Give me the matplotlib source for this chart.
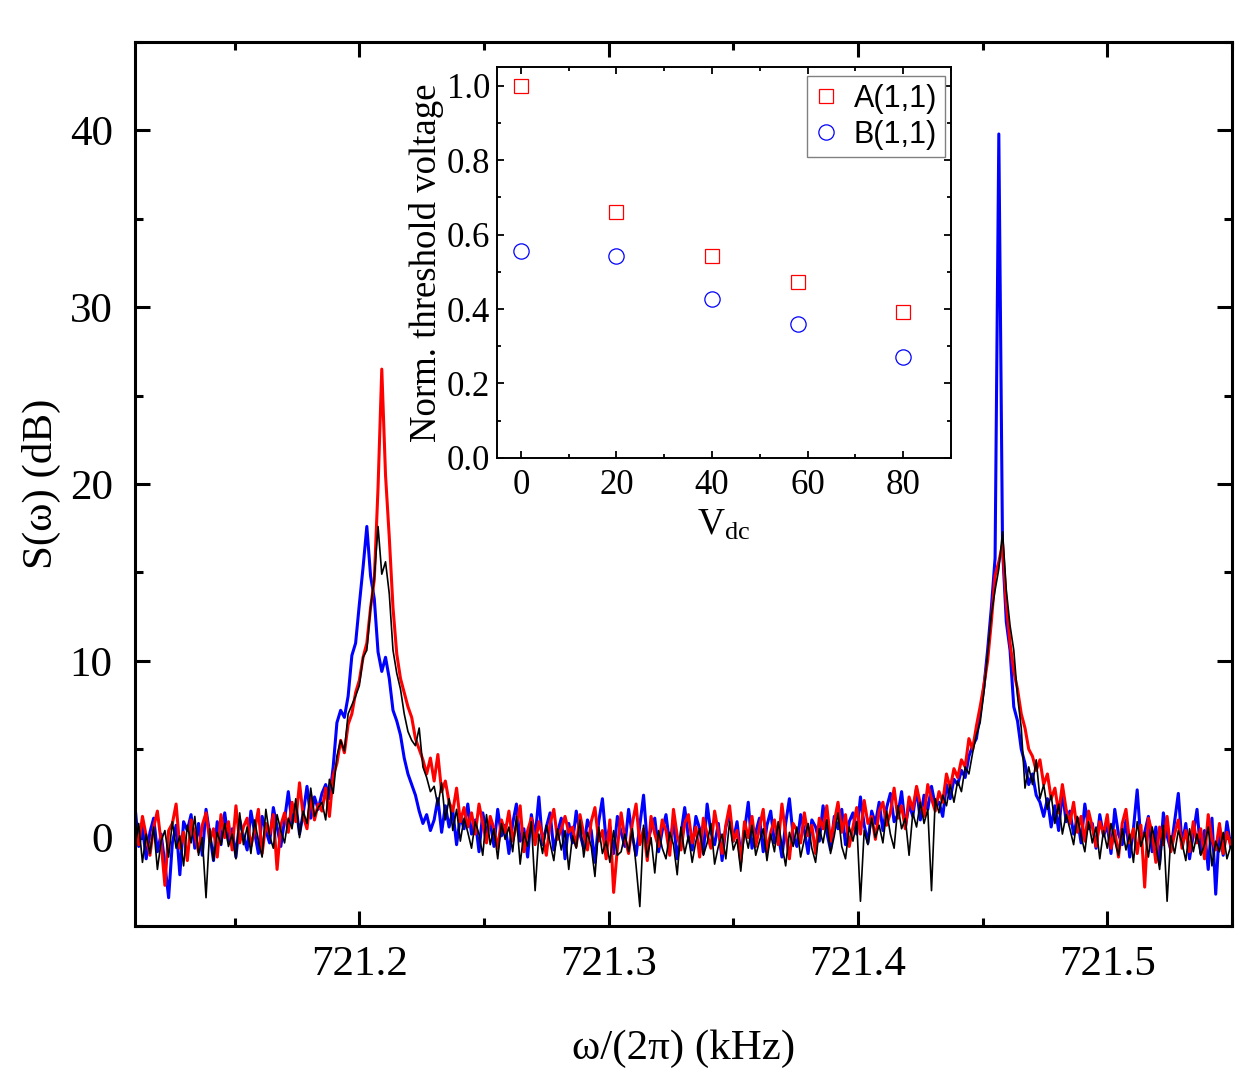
import numpy as np
import matplotlib
matplotlib.use("Agg")
import matplotlib.pyplot as plt
from matplotlib import font_manager
from matplotlib.ticker import MultipleLocator, FormatStrFormatter

plt.rcParams['font.family'] = ['Liberation Serif', 'DejaVu Serif']
plt.rcParams['mathtext.fontset'] = 'custom'
plt.rcParams['mathtext.rm'] = 'Liberation Serif'
plt.rcParams['mathtext.it'] = 'Liberation Serif:italic'

# frequency grid of the spectrum (kHz), 0.0015 kHz step
f_start = 721.11
f_step = 0.0015
n_pts = 294

# spectra in dB
s_blue = [
    1.8, -0.5, 0.6, -1.2, 0.3, 1.1, -0.8, 0.2, -1.5, -3.4,
    -0.3, 0.7, -2.1, 0.9, 0.4, 1.3, -0.6, 0.8, -1.0, 1.6,
    0.2, -1.3, 0.9, -0.4, 1.4, -0.2, 0.5, -1.1, 1.0, 0.1,
    -0.7, 1.5, 0.3, -0.9, 1.2, 0.4, -0.3, 1.7, 0.6, -0.5,
    1.0, 2.6, 0.8, 1.9, 0.2, 1.4, 2.9, 1.1, 2.3, 1.6,
    2.5, 3.0, 2.2, 4.0, 6.5, 7.2, 6.8, 8.0, 10.3, 11.0,
    13.2, 15.3, 17.6, 14.8, 13.5, 10.5, 9.4, 10.2, 9.0, 7.2,
    6.6, 5.8, 4.5, 3.6, 3.0, 2.4, 1.5, 0.8, 1.3, 0.4,
    1.0, 2.2, 0.3, 1.8, 0.6, 1.5, -0.4, 1.2, 0.5, 1.9,
    0.2, 1.0, -0.8, 1.4, 0.3, 0.9, -0.5, 1.6, 0.1, 0.7,
    -0.9, 0.8, 1.9, -0.2, 0.5, -1.1, 1.3, 0.0, 2.3, -0.4,
    0.6, 1.4, -0.7, 0.3, 1.1, -1.2, 0.8, -0.3, 1.5, 0.2,
    -0.6, 1.0, 0.4, -1.4, 0.9, 2.2, -0.2, 0.6, -0.9, 1.2,
    0.3, -0.5, 1.6, 0.1, -1.0, 0.7, 2.4, -0.3, 0.5, 1.1,
    -0.8, 0.4, 1.3, -0.4, 0.9, -1.2, 0.2, 1.7, 0.0, -0.7,
    1.2, 0.5, -0.9, 1.9, 0.3, -0.4, 0.8, -1.3, 0.6, 1.4,
    -0.2, 0.9, -1.0, 0.4, 2.0, -0.6, 0.3, 1.1, -0.8, 0.7,
    1.5, -0.3, 0.2, -1.1, 0.8, 2.2, 0.1, -0.5, 1.3, 0.4,
    -0.9, 1.0, 0.6, -0.2, 1.8, 0.3, -0.7, 1.2, 0.5, 1.6,
    -0.4, 0.9, 1.4, 0.2, 2.3, 0.7, -0.3, 1.5, 0.8, 2.0,
    0.4, 1.7, 2.5, 0.9, 1.3, 2.6, 0.6, 1.9, 1.2, 2.8,
    1.0, 2.4, 1.6, 2.9, 1.8, 2.0, 1.2, 3.0, 2.2, 3.3,
    3.0, 3.8, 3.4, 4.6, 5.2, 5.6, 7.0, 8.5, 10.6, 13.0,
    15.8, 39.8, 16.3, 12.2, 10.6, 7.4, 6.6, 5.0, 4.2, 3.0,
    3.6, 2.4, 2.0, 1.2, 2.2, 0.6, 1.8, 0.4, 2.6, 0.9,
    1.5, 0.2, 1.1, -0.3, 1.9, 0.5, 0.8, -0.6, 1.3, 0.1,
    0.7, -0.9, 1.6, 0.2, -0.4, 1.0, -1.1, 0.5, 2.7, -0.2,
    0.3, 1.2, -0.8, 0.6, -1.5, 1.4, 0.1, -0.7, 0.9, 2.5,
    -0.4, 0.8, -1.2, 0.2, 1.6, -0.9, 0.4, -1.8, 1.1, -3.2,
    0.6, -1.0, 0.9, -0.5,
]

s_red = [
    0.9, -0.4, 1.2, 0.1, -1.0, 0.6, 1.5, -0.3, -2.7, 0.4,
    0.8, 1.9, -0.6, 0.3, -1.3, 1.0, 0.2, -0.8, 0.7, 1.4,
    -0.2, 0.5, -1.1, 1.3, 0.0, 0.9, -0.7, 1.8, -0.3, 0.6,
    1.1, -0.5, 0.4, 1.6, -0.9, 0.8, 0.2, 1.3, -1.8, 0.7,
    1.4, 0.3, 2.0, 0.9, 3.1, 1.2, 0.5, 2.4, 1.0, 1.9,
    1.5, 2.8, 1.2, 3.5, 4.2, 5.5, 4.8, 6.4, 7.0, 8.2,
    8.9, 10.2, 11.0, 13.0, 14.6, 19.8, 26.5, 20.5, 17.0, 13.0,
    10.4, 9.0, 8.2, 7.4, 6.8, 5.6, 5.0, 4.4, 3.6, 4.5,
    3.2, 4.7, 2.6, 3.2, 2.0, 1.5, 2.8, 0.9, 1.7, 0.6,
    1.4, 0.2, 1.9, 0.8, -0.3, 1.2, 0.5, -0.6, 1.0, 0.3,
    1.5, -0.2, 0.7, 1.8, -0.8, 0.4, 1.1, -0.4, 0.9, 0.1,
    -1.0, 0.8, 1.6, -0.1, 0.5, 1.2, 0.3, 0.6, -0.5, 1.3,
    0.2, -0.7, 0.9, 1.7, -0.2, 0.4, -1.2, 1.0, -3.1, -0.6,
    1.4, 0.0, -0.9, 0.8, 1.9, -0.4, 0.5, -1.3, 1.2, 0.2,
    -0.5, 1.0, 0.4, -1.0, 1.6, 0.1, -0.7, 0.8, 1.3, -0.3,
    0.6, -1.1, 1.1, 0.2, -0.6, 1.5, 0.3, -0.9, 0.7, 1.8,
    -0.2, 0.4, -1.4, 0.9, 0.0, 1.2, -0.5, 0.6, 1.6, -0.8,
    0.3, 1.0, -0.4, 1.9, 0.2, -1.2, 0.8, 0.4, -0.3, 1.4,
    0.1, 0.7, -0.9, 1.1, 0.5, 1.8, -0.2, 0.9, 2.0, 0.3,
    1.3, -0.5, 0.6, 1.7, 0.2, 2.1, 0.8, 1.2, -0.1, 1.5,
    2.0, 0.7, 1.4, 2.8, 1.1, 1.8, 0.5, 2.3, 1.6, 2.9,
    1.9, 1.2, 3.0, 2.2, 1.5, 2.6, 2.0, 3.6, 2.8, 3.9,
    3.4, 4.4, 4.0, 5.6, 5.0, 6.3, 7.4, 8.6, 10.0, 12.2,
    14.8, 15.6, 16.6, 13.2, 11.0, 9.4, 8.4, 7.0, 6.2, 5.0,
    4.6, 3.8, 4.4, 3.0, 3.6, 2.2, 2.8, 1.4, 3.0, 1.6,
    0.8, 2.0, 0.3, 1.2, -0.2, 1.5, 0.6, -0.5, 0.9, 0.2,
    1.3, -0.6, 0.4, -1.1, 0.8, 1.6, -0.3, 0.5, -0.9, 0.7,
    -2.8, 1.1, 0.3, -1.4, 0.6, -0.4, 1.2, -0.8, 0.2, 1.0,
    -0.6, 0.4, -0.8, 0.9, -0.3, 0.5, -1.2, 1.3, -0.1, -0.7,
    0.8, -0.9, 0.3, -0.4,
]

s_black = [
    -0.5, 0.8, -1.4, 0.2, -0.9, 0.6, -1.8, -0.2, 0.4, -1.1,
    0.9, -0.6, 0.1, -1.6, 0.7, -0.3, 1.2, -1.0, 0.0, -3.4,
    0.5, -1.3, 0.3, -0.4, 0.8, -0.5, 0.2, -1.2, 1.4, -0.4,
    0.6, -0.9, 1.0, -0.2, -1.1, 1.6, 0.1, -0.6, 1.3, 0.4,
    -0.3, 1.1, 0.5, 2.2, 0.0, 1.5, 0.8, 2.8, 1.2, 1.7,
    2.0, 1.0, 3.3, 2.5, 4.6, 5.5, 4.9, 7.0, 7.5, 8.0,
    8.6, 10.2, 10.6, 13.0, 14.7, 17.6, 14.9, 15.6, 13.8, 10.6,
    9.3, 8.4, 7.0, 6.0, 5.5, 5.2, 6.2, 4.0, 3.4, 2.6,
    2.9, 1.8, 3.1, 1.0, 2.2, 0.4, 1.6, -0.2, 1.1, 0.3,
    -0.6, 0.9, 0.2, -1.0, 1.3, -0.4, 0.5, -1.2, 0.8, -0.1,
    0.6, -0.8, 1.2, -1.5, 0.3, -0.5, 0.9, -3.0, 0.2, -0.9,
    0.7, -0.3, -1.3, 0.5, -0.7, 0.4, -1.8, 0.1, -0.6, 1.0,
    -1.1, 0.3, -0.5, -2.2, 0.6, -0.9, -0.2, -1.4, 0.4, -1.0,
    -0.8, 0.2, -0.8, 0.5, -1.6, -3.9, 0.7, -1.1, 0.0, -2.0,
    0.4, -0.6, -1.2, 0.3, -0.4, -2.1, 0.6, -0.9, 0.1, -1.4,
    -0.2, 0.5, -1.0, -0.3, 0.8, -1.5, -0.5, 0.2, -1.2, 0.9,
    -0.7, -0.1, -1.9, 0.4, -0.6, 0.7, -1.0, -0.2, 0.5, -1.3,
    0.2, -0.8, 0.9, -0.4, -1.6, 0.3, -0.5, 0.6, -1.1, -0.1,
    0.8, -0.6, -1.4, 0.5, -0.3, 1.0, -0.9, 0.1, 1.4, -0.5,
    -1.2, 0.6, -0.2, 0.9, -3.6, 0.4, -0.4, 1.1, 0.0, 0.7,
    -0.3, 1.5, 0.2, -0.6, 1.8, 0.5, 1.1, -1.0, 1.4, 0.6,
    2.0, 0.8, 1.6, -3.0, 2.2, 1.4, 2.4, 1.8, 3.0, 2.0,
    3.2, 2.6, 4.0, 3.6, 4.8, 5.8, 6.5, 8.2, 10.4, 12.6,
    14.0, 15.2, 17.3, 14.0, 12.0, 10.6, 8.0, 6.2, 2.8, 4.0,
    3.0, 4.4, 2.2, 3.0, 1.6, 2.4, 0.8, 1.9, 0.2, 1.3,
    0.5, -0.4, 1.2, 0.1, -0.8, 0.9, -0.3, 0.6, -1.2, 0.4,
    -0.6, 0.8, -0.2, -1.0, 0.5, -0.7, 0.2, -1.4, 0.9, -0.5,
    0.3, -1.1, 0.6, -0.4, -1.8, 0.7, -3.6, 0.1, -0.9, 0.4,
    -0.3, -1.3, 0.5, -0.8, 0.2, -1.0, -0.4, 0.6, -1.6, -0.2,
    -0.8, 0.3, -1.2, -0.5,
]

# inset: normalised threshold voltage vs V_dc
vdc_a = [0, 20, 40, 58, 80]
thr_a = [1.0, 0.66, 0.542, 0.472, 0.392]
vdc_b = [0, 20, 40, 58, 80]
thr_b = [0.555, 0.543, 0.427, 0.36, 0.27]

freq = f_start + f_step * np.arange(n_pts)

fig = plt.figure(figsize=(12.36, 10.75), dpi=100)
ax = fig.add_axes([0.1092, 0.1386, 0.8875, 0.8223])

ax.plot(freq, s_blue, color='#0000ff', lw=2.2)
ax.plot(freq, s_red, color='#ff0000', lw=2.2)
ax.plot(freq, s_black, color='black', lw=1.2)

ax.set_xlim(721.11, 721.55)
ax.set_ylim(-5, 45)
ax.xaxis.set_major_locator(MultipleLocator(0.1))
ax.xaxis.set_minor_locator(MultipleLocator(0.05))
ax.xaxis.set_major_formatter(FormatStrFormatter('%.1f'))
ax.yaxis.set_major_locator(MultipleLocator(10))
ax.yaxis.set_minor_locator(MultipleLocator(5))
ax.tick_params(which='both', direction='in', top=True, right=True, width=2.2)
ax.tick_params(which='major', length=11, labelsize=31)
ax.tick_params(which='minor', length=6)
ax.tick_params(axis='y', pad=16)
ax.tick_params(axis='x', pad=14)
for sp in ax.spines.values():
    sp.set_linewidth(2.2)
ax.set_xlabel(r'ω/(2π) (kHz)', fontsize=31, labelpad=33)
ax.set_ylabel(r'S(ω) (dB)', fontsize=31, labelpad=6)

# inset
ins = fig.add_axes([0.4021, 0.5740, 0.3673, 0.3637])
ins.plot(vdc_a, thr_a, ls='none', marker='s', ms=9.5, mfc='none', mec='#ff0000',
         mew=0.9, label='A(1,1)')
ins.plot(vdc_b, thr_b, ls='none', marker='o', ms=11, mfc='none', mec='#0000ff',
         mew=0.9, label='B(1,1)')
ins.set_xlim(-5, 90)
ins.set_ylim(0, 1.05)
ins.xaxis.set_major_locator(MultipleLocator(20))
ins.xaxis.set_minor_locator(MultipleLocator(10))
ins.yaxis.set_major_locator(MultipleLocator(0.2))
ins.yaxis.set_minor_locator(MultipleLocator(0.1))
ins.yaxis.set_major_formatter(FormatStrFormatter('%.1f'))
ins.tick_params(which='both', direction='in', top=True, right=True, width=1.3)
ins.tick_params(which='major', length=5, labelsize=25)
ins.tick_params(which='minor', length=3)
ins.tick_params(axis='y', pad=5)
ins.tick_params(axis='x', pad=8)
for sp in ins.spines.values():
    sp.set_linewidth(1.4)
ins.set_xlabel(r'V$_{\mathrm{dc}}$', fontsize=27, labelpad=4)
ins.set_ylabel('Norm. threshold voltage', fontsize=26.5, labelpad=2)

# legend font: narrow sans if present
names = {f.name for f in font_manager.fontManager.ttflist}
if 'Liberation Sans Narrow' in names:
    leg_font = {'family': 'Liberation Sans Narrow', 'size': 26}
else:
    leg_font = {'family': 'Liberation Sans', 'size': 22}

leg = ins.legend(loc='upper right', bbox_to_anchor=(1 - 6 / 454, 1 - 9 / 391),
                 borderaxespad=0, fancybox=False, framealpha=1, edgecolor='#808080',
                 prop=leg_font, handlelength=0.8, handletextpad=0.5,
                 borderpad=0.25, labelspacing=0.2)
leg.get_frame().set_linewidth(1.0)

fig.savefig('out.png', dpi=100)
